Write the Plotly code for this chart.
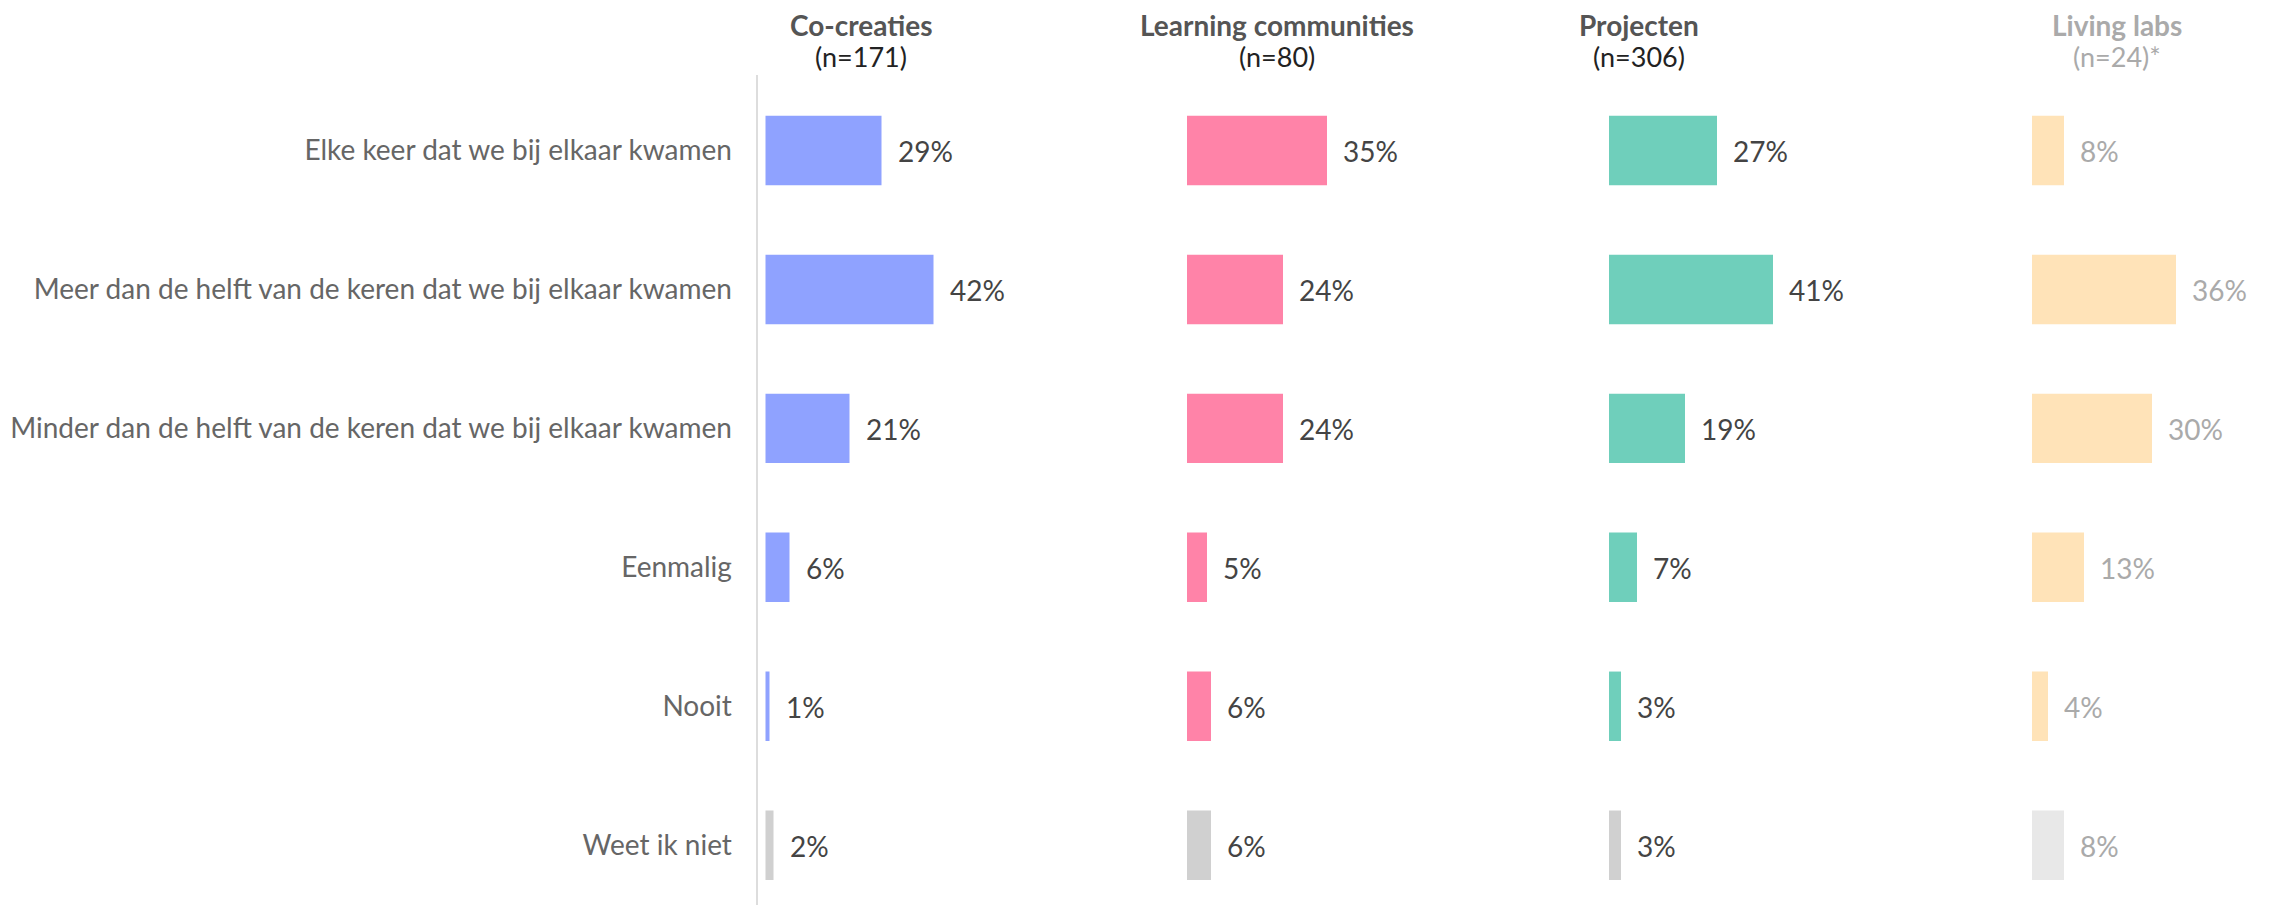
import plotly.graph_objects as go

categories = [
    "Elke keer dat we bij elkaar kwamen",
    "Meer dan de helft van de keren dat we bij elkaar kwamen",
    "Minder dan de helft van de keren dat we bij elkaar kwamen",
    "Eenmalig",
    "Nooit",
    "Weet ik niet",
]
group_titles = ["Co-creaties", "Learning communities", "Projecten", "Living labs"]
group_n = ["(n=171)", "(n=80)", "(n=306)", "(n=24)*"]

co_creaties = [29, 42, 21, 6, 1, 2]
learning_communities = [35, 24, 24, 5, 6, 6]
projecten = [27, 41, 19, 7, 3, 3]
living_labs = [8, 36, 30, 13, 4, 8]

series = [co_creaties, learning_communities, projecten, living_labs]
main_colors = ["#8FA2FF", "#FF83A8", "#6FCFBB", "#FFE3B8"]
unknown_colors = ["#D0D0D0", "#D0D0D0", "#D0D0D0", "#E8E8E8"]
value_colors = ["#444444", "#444444", "#444444", "#AAAAAA"]
title_colors = ["#555555", "#555555", "#555555", "#AAAAAA"]
n_colors = ["#222222", "#222222", "#222222", "#AAAAAA"]

W, H = 2269, 905
FONT = "Lato"
OFF = 8  # page body margin offset
zero_px = [765.5 - OFF, 1187 - OFF, 1609 - OFF, 2032 - OFF]
title_center_px = [861 - OFF, 1277 - OFF, 1639 - OFF, 2117 - OFF]
px_per_pct = 4.0
pad_px = 8
dom_w = 230

fig = go.Figure()
layout_axes = {}
annotations = []
for k, vals in enumerate(series):
    xname = "x" if k == 0 else f"x{k+1}"
    axkey = "xaxis" if k == 0 else f"xaxis{k+1}"
    colors = [main_colors[k]] * (len(categories) - 1) + [unknown_colors[k]]
    fig.add_trace(go.Bar(
        x=vals, y=categories, orientation="h",
        marker=dict(color=colors, line=dict(width=0)),
        width=0.5, xaxis=xname, yaxis="y", showlegend=False,
        hoverinfo="skip",
    ))
    d0 = (zero_px[k] - pad_px) / W
    d1 = (zero_px[k] - pad_px + dom_w) / W
    lo = -pad_px / px_per_pct
    layout_axes[axkey] = dict(
        domain=[d0, d1], range=[lo, lo + dom_w / px_per_pct],
        visible=False, anchor="y", fixedrange=True,
    )
    for c, v in zip(categories, vals):
        annotations.append(dict(
            x=v, y=c, xref=xname, yref="y", text=f"{v}%",
            showarrow=False, xanchor="left", yanchor="middle", xshift=14, yshift=-1,
            font=dict(family=FONT, size=28, color=value_colors[k]),
        ))
    annotations.append(dict(
        x=title_center_px[k] / W, y=1, xref="paper", yref="paper",
        text=f"<b>{group_titles[k]}</b>", showarrow=False,
        xanchor="center", yanchor="top", yshift=2,
        font=dict(family=FONT, size=28, color=title_colors[k]),
    ))
    annotations.append(dict(
        x=title_center_px[k] / W, y=1 - (57 - OFF) / H, xref="paper", yref="paper",
        text=group_n[k], showarrow=False,
        xanchor="center", yanchor="middle",
        font=dict(family=FONT, size=27, color=n_colors[k]),
    ))

fig.update_layout(
    width=W, height=H,
    margin=dict(l=0, r=0, t=0, b=0),
    paper_bgcolor="white", plot_bgcolor="white",
    font=dict(family=FONT),
    yaxis=dict(
        domain=[OFF / H, (H - 75 + OFF) / H],
        categoryorder="array", categoryarray=categories,
        range=[5.43, -0.543],
        showline=True, linecolor="#DDDDDD", linewidth=2,
        showgrid=False, zeroline=False, ticks="",
        ticklabelstandoff=18,
        tickfont=dict(family=FONT, size=28, color="#666666"),
        anchor="x", fixedrange=True, automargin=False,
    ),
    annotations=annotations,
    bargap=0.5,
    **layout_axes,
)

fig.write_html("out.html")
